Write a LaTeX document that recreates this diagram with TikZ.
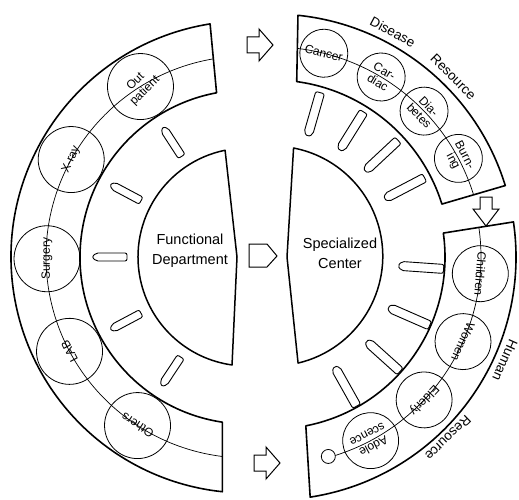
\documentclass[tikz,border=0pt]{standalone}
\usepackage{fontspec}
\setmainfont{Liberation Sans}
\usetikzlibrary{positioning}
\tikzset{band/.style = {line width=1.6pt, line join=round}}
\tikzset{hub/.style = {line width=1.5pt, line join=round}}
\tikzset{ring/.style = {line width=0.7pt}}
\tikzset{unit/.style = {draw, circle, line width=0.8pt, inner sep=0pt, align=center,
                        font=\fontsize{12}{13}\selectfont}}
\tikzset{spokeline/.style = {line width=0.9pt, rounded corners=2pt}}
\tikzset{flow/.style = {line width=1pt, line join=miter}}
\tikzset{title/.style = {align=center, font=\fontsize{14.5}{20}\selectfont}}
\tikzset{words/.style = {inner sep=0pt, font=\fontsize{13.5}{16}\selectfont}}

\begin{document}
\begin{tikzpicture}[x=1pt, y=1pt]
  \useasboundingbox (0,0) rectangle (519,499);
  % left half: functional department
  \begin{scope}[shift={(247,242)}]
    \draw[band] (99:236) arc[start angle=99, end angle=264, radius=236]
      -- (261.5:167) arc[start angle=261.5, end angle=100.5, radius=167] -- cycle;
    \draw[ring] (99.7:201) arc[start angle=99.7, end angle=262.8, radius=201];
    \draw[hub] (101.6:109) arc[start angle=101.6, end angle=262.1, radius=109]
      -- (-10,0) -- cycle;
    \node[unit, minimum size=66, rotate=45] (l1) at (122:201) {Out\\patient};
    \node[unit, minimum size=66, rotate=66] (l2) at (151:201) {X-ray};
    \node[unit, minimum size=66, rotate=90] (l3) at (180.5:200) {Surgery};
    \node[unit, minimum size=66, rotate=118] (l4) at (208:201) {LAB};
    \node[unit, minimum size=66, rotate=147] (l5) at (237:201) {Others};
    \foreach \a in {123,152,180,208,236.5}
      \draw[spokeline, rotate=\a] (120,-4) -- (151,-4) -- (155,0) -- (151,4)
        -- (120,4) -- cycle;
  \end{scope}
  \node[title] (func) at (190,248) {Functional\\Department};
  % right half: specialized center
  \begin{scope}[shift={(273,242)}]
    \draw[band] (84.1:243) arc[start angle=84.1, end angle=17.1, radius=243]
      -- (17.4:177) arc[start angle=17.4, end angle=82.3, radius=177] -- cycle;
    \draw[band] (8.3:243) arc[start angle=8.3, end angle=-81.2, radius=243]
      -- (-79:172) arc[start angle=-79, end angle=8, radius=172] -- cycle;
    \draw[ring] (83.2:210) arc[start angle=83.2, end angle=17.3, radius=210];
    \node[unit, minimum size=14] (hr0) at (-74.5:207) {};
    \draw[ring] (8.2:208) arc[start angle=8.2, end angle=-72.6, radius=208];
    \draw[hub] (-76.7:109) arc[start angle=-76.7, end angle=79.1, radius=110]
      -- (14,0) -- cycle;
    \node[unit, minimum size=48, rotate=-14] (d1) at (76:210) {Cancer};
    \node[unit, minimum size=48, rotate=-31] (d2) at (59:210) {Car-\\diac};
    \node[unit, minimum size=48, rotate=-46] (d3) at (44:210) {Dia-\\betes};
    \node[unit, minimum size=48, rotate=-62] (d4) at (28:210) {Burn-\\ing};
    \node[unit, minimum size=56, rotate=-94.6] (h1) at (-4.6:208) {Children};
    \node[unit, minimum size=56, rotate=-114] (h2) at (-24:208) {Women};
    \node[unit, minimum size=56, rotate=-133.4] (h3) at (-43.4:208) {Elderly};
    \node[unit, minimum size=56, rotate=-152] (h4) at (-62:208) {Adole\\scence};
    \foreach \a in {74,58,43,27.6,-4,-23.6,-42,-60.7}
      \draw[spokeline, rotate=\a] (171,-4.5) -- (129,-4.5) -- (125,0) -- (129,4.5)
        -- (171,4.5) -- cycle;
    \node[words, rotate=-28] (dis1) at (62:255) {Disease};
    \node[words, rotate=-45] (dis2) at (45:255) {Resource};
    \node[words, rotate=-114] (hum1) at (-24:254) {Human};
    \node[words, rotate=-136] (hum2) at (-46:252) {Resource};
  \end{scope}
  \node[title] (spec) at (340,246) {Specialized\\Center};
  % block arrows
  \draw[flow] (247,446) -- (259,446) -- (259,438) -- (273,454) -- (259,470)
    -- (259,462) -- (247,462) -- cycle;
  \draw[flow] (249,255) -- (267,255) -- (277,243) -- (267,232) -- (249,232) -- cycle;
  \draw[flow] (254,28) -- (266,28) -- (266,20) -- (280,36) -- (266,52)
    -- (266,44) -- (254,44) -- cycle;
  \draw[flow] (480,302) -- (480,290) -- (473,290) -- (486,273) -- (499,290)
    -- (492,290) -- (492,302) -- cycle;
\end{tikzpicture}
\end{document}
